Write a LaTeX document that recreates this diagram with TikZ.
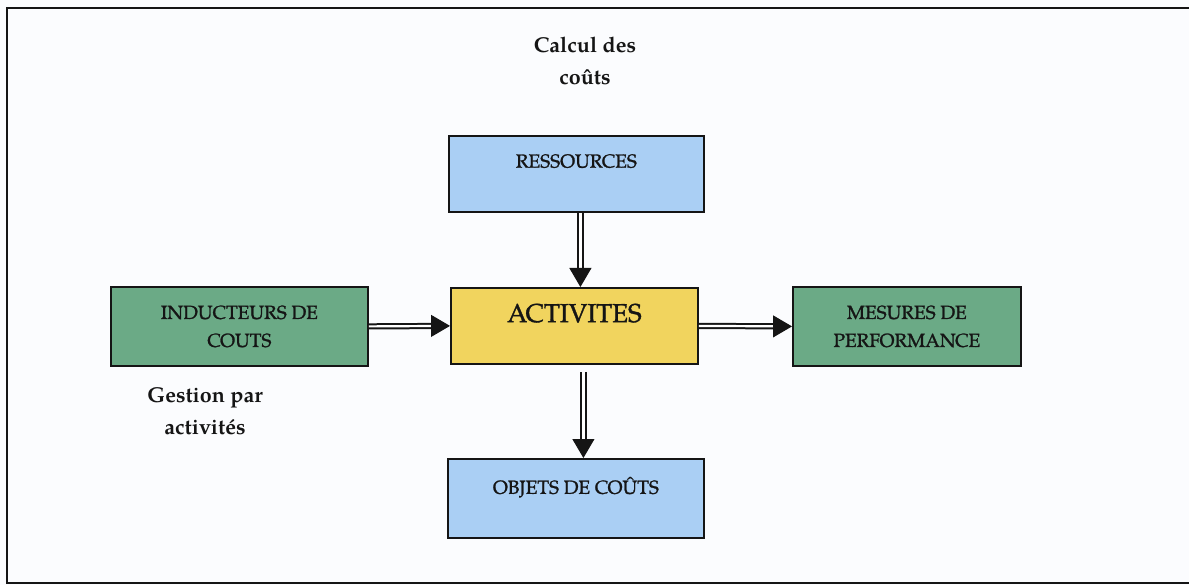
\documentclass[tikz,border=0pt]{standalone}
\usepackage{fontspec}
\setmainfont{TeX Gyre Pagella}
\newfontfamily\boxfont[FakeBold=1.3]{TeX Gyre Pagella}
\usetikzlibrary{arrows.meta,calc}

\definecolor{paper}{HTML}{FBFCFE}
\definecolor{boxblue}{HTML}{AACFF4}
\definecolor{boxgreen}{HTML}{6BAA86}
\definecolor{boxyellow}{HTML}{F1D45E}
\definecolor{ink}{HTML}{151515}

\tikzset{
  box/.style={draw=ink, line width=1.8pt, inner sep=0pt, text=ink,
              align=center, font=\boxfont\fontsize{19}{28}\selectfont},
  blue box/.style={box, fill=boxblue},
  green box/.style={box, fill=boxgreen},
  core box/.style={box, fill=boxyellow, font=\boxfont\fontsize{26}{30}\selectfont},
  shaft/.style={draw=ink, double=white, line width=2pt, double distance=2.2pt},
  thick shaft/.style={shaft, line width=2.4pt, double distance=2.6pt},
  tip/.style={draw=ink, line width=1pt, -{Triangle[length=19pt,width=22pt]}},
  heading/.style={text=ink, align=center, font=\bfseries\fontsize{21.5}{32}\selectfont}
}

\begin{document}
\begin{tikzpicture}[x=1pt, y=-1pt]
  % page and outer frame
  \fill[paper] (0,0) rectangle (1189,585);
  \useasboundingbox (0,0) rectangle (1189,585);
  \draw[ink, line width=2.4pt] (1189,8) -- (7,8) -- (7,583) -- (1189,583);

  % boxes
  \node[blue box, minimum width=255pt, minimum height=76pt, anchor=north west,
        text depth=26pt] (res) at (448,135) {RESSOURCES};
  \node[core box, minimum width=247pt, minimum height=76pt, anchor=north west,
        text depth=26pt] (act) at (450,287) {ACTIVITES};
  \node[green box, minimum width=257pt, minimum height=79pt, anchor=north west]
        (ind) at (110,286) {INDUCTEURS DE\\COUTS};
  \node[green box, minimum width=228pt, minimum height=79pt, anchor=north west]
        (mes) at (792,286) {MESURES DE\\PERFORMANCE};
  \node[blue box, minimum width=256pt, minimum height=79pt, anchor=north west,
        text depth=26pt] (obj) at (447,458) {OBJETS DE COÛTS};

  % headings
  \node[heading] (calc) at (585,61) {Calcul des\\coûts};
  \node[heading] (gest) at (205,411) {Gestion par\\activités};

  % connectors: double shaft with a solid triangular head
  \coordinate (resout) at ($(res.south)+(4pt,0)$);
  \coordinate (actin)  at ($(act.north)+(6pt,0)$);
  \coordinate (actout) at ($(act.south)+(9pt,-7pt)$);
  \coordinate (objin)  at ($(obj.north)+(8pt,0)$);

  \draw[thick shaft, shorten >=17pt] (resout) -- (resout |- actin);
  \draw[tip] ($(actin)+(0,18pt)$) -- (actin);

  \draw[thick shaft, shorten >=17pt] (actout) -- (actout |- objin);
  \draw[tip] ($(actout |- objin)+(0,18pt)$) -- (actout |- objin);

  \draw[shaft, shorten >=17pt] (ind.east) -- (act.west);
  \draw[tip] ($(act.west)+(-18pt,0)$) -- (act.west);

  \draw[shaft, shorten >=17pt] (act.east) -- (mes.west);
  \draw[tip] ($(mes.west)+(-18pt,0)$) -- (mes.west);
\end{tikzpicture}
\end{document}
